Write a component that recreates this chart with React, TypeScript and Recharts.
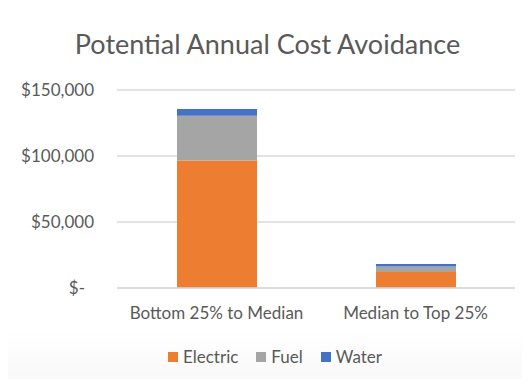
import React from "react";
import { BarChart, Bar, XAxis, YAxis, CartesianGrid } from "recharts";

const groups = ["Bottom 25% to Median", "Median to Top 25%"];
const electric = [96500, 12100];
const fuel = [34000, 4200];
const water = [5100, 1800];
const yTicks = [0, 50000, 100000, 150000];

const seriesNames = ["Electric", "Fuel", "Water"];
const seriesColors = ["#ED7D31", "#A5A5A5", "#4472C4"];

const FONT = "Lato, 'Open Sans', sans-serif";
const TEXT = "#595959";

const data = groups.map((g, i) => ({
  group: g,
  Electric: electric[i],
  Fuel: fuel[i],
  Water: water[i],
}));

const fmtMoney = (v: number) =>
  v === 0 ? "$-" : "$" + v.toLocaleString("en-US");

// accounting format: the zero dash sits a little in from the right edge
const YTick = ({ x, y, payload }: any) => (
  <text
    x={payload.value === 0 ? x - 9 : x}
    y={y}
    dy={6}
    textAnchor="end"
    fill={TEXT}
    fontSize={17}
    fontFamily={FONT}
  >
    {fmtMoney(payload.value)}
  </text>
);

export default function App() {
  return (
    <div
      style={{
        position: "relative",
        width: 530,
        height: 387,
        margin: -8,
        background: "linear-gradient(#ffffff 85%, #f8f8f8)",
        overflow: "hidden",
        fontFamily: FONT,
      }}
    >
      <div
        style={{
          position: "absolute",
          left: 5,
          top: 6,
          width: 540,
          height: 400,
          borderLeft: "2px solid #e1e1e1",
          borderTop: "2px solid #e1e1e1",
        }}
      />
      <div
        style={{
          position: "absolute",
          left: 0,
          width: 535,
          top: 27,
          textAlign: "center",
          fontSize: 27,
          color: TEXT,
        }}
      >
        Potential Annual Cost Avoidance
      </div>
      <div style={{ position: "absolute", left: 0, top: 0 }}>
        <BarChart
          width={530}
          height={387}
          data={data}
          margin={{ top: 90, right: 15, left: 0, bottom: 69 }}
          barSize={80}
        >
          <CartesianGrid vertical={false} stroke="#d9d9d9" strokeWidth={1.5} />
          <XAxis
            dataKey="group"
            axisLine={{ stroke: "#d9d9d9", strokeWidth: 1.5 }}
            tickLine={false}
            height={30}
            tick={{ fill: TEXT, fontSize: 17, fontFamily: FONT }}
            tickMargin={13}
          />
          <YAxis
            width={117}
            domain={[0, 150000]}
            ticks={yTicks}
            axisLine={false}
            tickLine={false}
            tickSize={0}
            tickMargin={23}
            tick={<YTick />}
          />
          {seriesNames.map((name, i) => (
            <Bar
              key={name}
              dataKey={name}
              stackId="cost"
              fill={seriesColors[i]}
              isAnimationActive={false}
            />
          ))}
        </BarChart>
      </div>
      <div
        style={{
          position: "absolute",
          left: 0,
          width: 550,
          top: 346,
          display: "flex",
          justifyContent: "center",
          gap: 18,
          fontSize: 17,
          color: TEXT,
        }}
      >
        {seriesNames.map((name, i) => (
          <div key={name} style={{ display: "flex", alignItems: "center", gap: 5 }}>
            <span
              style={{
                width: 10,
                height: 10,
                background: seriesColors[i],
                display: "inline-block",
              }}
            />
            <span>{name}</span>
          </div>
        ))}
      </div>
    </div>
  );
}
